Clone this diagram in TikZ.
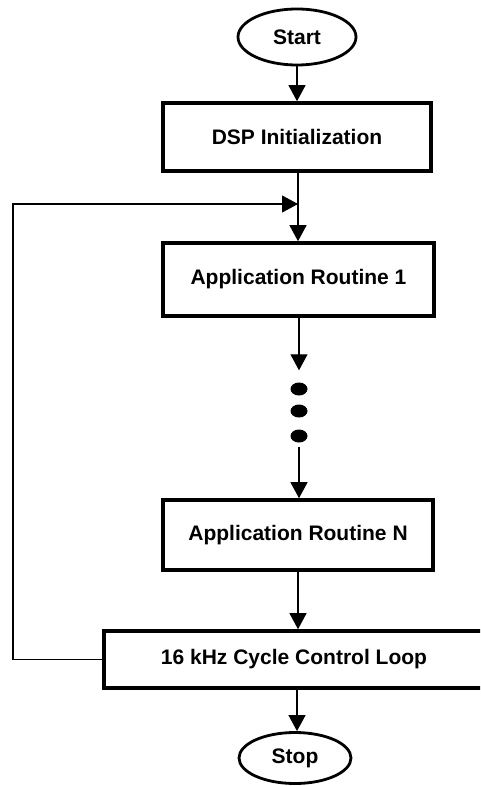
\documentclass[tikz,border=0pt]{standalone}
\usepackage{fontspec}
\setmainfont{Liberation Sans}
\usetikzlibrary{shapes.geometric,arrows.meta}
\begin{document}
\begin{tikzpicture}[x=1pt,y=-1pt,
  txt/.style={font=\fontsize{21}{25}\selectfont\bfseries},
  box/.style={draw,line width=3.6pt,inner sep=0pt,txt},
  term/.style={draw,ellipse,line width=2.8pt,inner sep=0pt,txt},
  conn/.style={line width=1.1pt,-{Triangle[length=16pt,width=17pt]}},
  bigdot/.style={fill,ellipse,minimum width=17pt,minimum height=13pt,inner sep=0pt}]
\useasboundingbox (0,0) rectangle (480,786);
\clip (0,0) rectangle (480,786);
\node[term,minimum width=118pt,minimum height=56pt] (start) at (297,37) {Start};
\node[box,minimum width=268pt,minimum height=68pt] (dsp) at (297,137) {DSP Initialization};
\node[box,minimum width=271pt,minimum height=73pt] (app1) at (298.5,279.5) {Application Routine 1};
\node[bigdot] (d1) at (299,389) {};
\node[bigdot] (d2) at (299,411) {};
\node[bigdot] (d3) at (299,436) {};
\node[box,minimum width=270pt,minimum height=70pt] (appn) at (298,535) {Application Routine N};
\node[box,minimum width=380pt,minimum height=57pt] (cyc) at (294,659.5) {16 kHz Cycle Control Loop};
\node[term,minimum width=112pt,minimum height=51pt] (stop) at (295,758) {Stop};
\coordinate (fb) at (13,204);
\coordinate (join) at (298,204);
\draw[conn] (start.south -| dsp.north) -- (dsp.north);
\draw[conn] (dsp.south -| join) -- (app1.north -| join);
\draw[conn] (cyc.west) -| (fb) -- (join);
\draw[conn,shorten >=12pt] (app1.south -| d1) -- (d1.north);
\draw[conn,shorten <=4pt] (d3.south) -- (appn.north -| d3);
\draw[conn] (appn.south -| join) -- (cyc.north -| join);
\draw[conn] (cyc.south -| 297,0) -- (stop.north -| 297,0);
\end{tikzpicture}
\end{document}
